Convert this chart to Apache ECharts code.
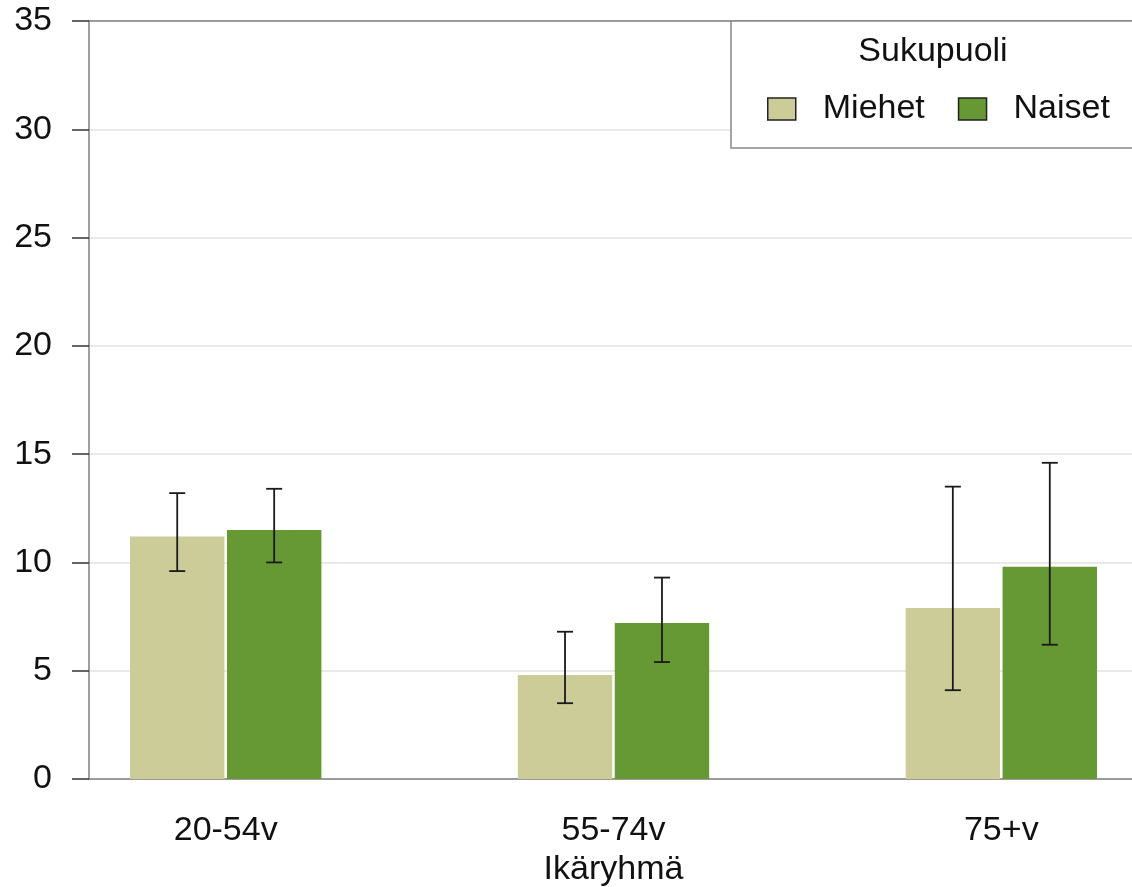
<!DOCTYPE html>
<html><head><meta charset="utf-8">
<script src="https://cdn.jsdelivr.net/npm/echarts@6/dist/echarts.min.js"></script>
<style>html,body{margin:0;padding:0;background:#fff}#c{width:1132px;height:887px}</style>
</head><body><div id="c"></div>
<script>
var categories = ['20-54v', '55-74v', '75+v'];
var seriesNames = ['Miehet', 'Naiset'];
var miehet = [11.2, 4.8, 7.9];
var miehetLow = [9.6, 3.5, 4.1];
var miehetHigh = [13.2, 6.8, 13.5];
var naiset = [11.5, 7.2, 9.8];
var naisetLow = [10.0, 5.4, 6.2];
var naisetHigh = [13.4, 9.3, 14.6];
var yTicks = [0, 5, 10, 15, 20, 25, 30, 35];

var FONT = 'Liberation Sans, Arial, sans-serif';
var BAR_W = 0.2435, OFFS = 0.125;

function mk(vals, lows, highs) {
  return vals.map(function (v, i) { return [i, v, lows[i], highs[i]]; });
}
function renderer(off) {
  return function (params, api) {
    var x = api.value(0), v = api.value(1), lo = api.value(2), hi = api.value(3);
    var p0 = api.coord([x + off - BAR_W / 2, 0]);
    var p1 = api.coord([x + off + BAR_W / 2, v]);
    var cx = api.coord([x + off, 0])[0];
    var yl = api.coord([x, lo])[1], yh = api.coord([x, hi])[1];
    var cap = 8;
    var es = { stroke: '#1a1a1a', lineWidth: 1.8 };
    return {
      type: 'group',
      children: [
        { type: 'rect', shape: { x: p0[0], y: p1[1], width: p1[0] - p0[0], height: p0[1] - p1[1] },
          style: { fill: api.visual('color') } },
        { type: 'line', shape: { x1: cx, y1: yl, x2: cx, y2: yh }, style: es, z2: 10 },
        { type: 'line', shape: { x1: cx - cap, y1: yh, x2: cx + cap, y2: yh }, style: es, z2: 10 },
        { type: 'line', shape: { x1: cx - cap, y1: yl, x2: cx + cap, y2: yl }, style: es, z2: 10 }
      ]
    };
  };
}

var chart = echarts.init(document.getElementById('c'), null, { renderer: 'canvas' });
chart.setOption({
  animation: false,
  backgroundColor: '#fff',
  textStyle: { fontFamily: FONT },
  grid: { left: 89, right: -6, top: 21, bottom: 108, containLabel: false, outerBoundsMode: 'none' },
  xAxis: [{
    type: 'value', min: -0.3525, max: 2.3525,
    axisLine: { show: true, onZero: true, lineStyle: { color: '#808080', width: 1.5 } },
    axisTick: { show: false },
    splitLine: { show: false },
    axisLabel: { customValues: [0, 1, 2], formatter: function (v) { return categories[Math.round(v)]; },
      fontSize: 34, color: '#111', fontFamily: FONT, margin: 35 },
    name: 'Ikäryhmä', nameLocation: 'middle', nameGap: 65,
    nameTextStyle: { fontSize: 34, color: '#111', fontFamily: FONT }
  }, {
    type: 'value', position: 'top', min: -0.3525, max: 2.3525,
    axisLine: { show: true, onZero: false, lineStyle: { color: '#808080', width: 1.5 } },
    axisTick: { show: false }, axisLabel: { show: false }, splitLine: { show: false }
  }],
  yAxis: {
    type: 'value', min: 0, max: 35, interval: 5,
    axisLine: { show: true, onZero: false, lineStyle: { color: '#808080', width: 1.5 } },
    axisTick: { show: true, length: 17, lineStyle: { color: '#333', width: 1.5 } },
    axisLabel: { fontSize: 34, color: '#111', fontFamily: FONT, margin: 37,
      formatter: function (v) { return yTicks.indexOf(v) >= 0 ? String(v) : ''; } },
    splitLine: { show: true, lineStyle: { color: '#e2e2e2', width: 1.5 } }
  },
  legend: {
    data: seriesNames, left: 762, top: 87, icon: 'rect', itemWidth: 28, itemHeight: 22,
    itemGap: 33, z: 20,
    itemStyle: { borderColor: '#222', borderWidth: 1.5 },
    textStyle: { fontSize: 34, color: '#111', fontFamily: FONT, padding: [0, 0, 0, 22] }
  },
  graphic: [
    { type: 'rect', z: 15, shape: { x: 731, y: 21, width: 420, height: 127 },
      style: { fill: '#fff', stroke: '#888', lineWidth: 1.5 } },
    { type: 'text', z: 16, x: 933, y: 52,
      style: { text: 'Sukupuoli', fontSize: 34, fill: '#111', fontFamily: FONT, align: 'center', verticalAlign: 'middle' } }
  ],
  series: [
    { name: seriesNames[0], type: 'custom', color: '#cccc99', itemStyle: { color: '#cccc99' },
      renderItem: renderer(-OFFS), encode: { x: 0, y: 1 }, data: mk(miehet, miehetLow, miehetHigh) },
    { name: seriesNames[1], type: 'custom', color: '#669933', itemStyle: { color: '#669933' },
      renderItem: renderer(OFFS), encode: { x: 0, y: 1 }, data: mk(naiset, naisetLow, naisetHigh) }
  ]
});
</script></body></html>
